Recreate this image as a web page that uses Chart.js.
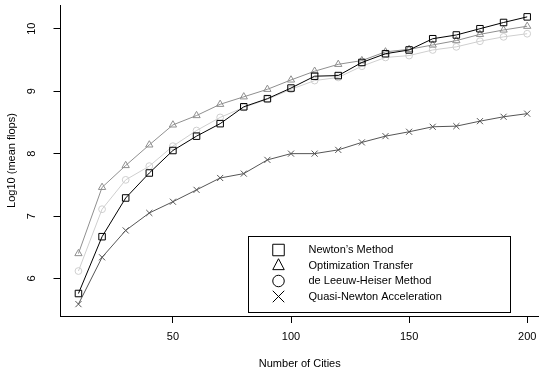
<!DOCTYPE html>
<html><head><meta charset="utf-8">
<script src="https://cdn.jsdelivr.net/npm/chart.js@4"></script>
<style>html,body{margin:0;padding:0;overflow:hidden;background:#fff}
canvas{display:block}</style>
</head><body><canvas id="c" width="539" height="369" style="width:539px;height:369px"></canvas>
<script>
const cities = [10,20,30,40,50,60,70,80,90,100,110,120,130,140,150,160,170,180,190,200];
const newton = [5.76,6.67,7.29,7.69,8.05,8.28,8.48,8.75,8.88,9.05,9.24,9.25,9.46,9.60,9.66,9.84,9.90,10.00,10.10,10.19];
const optTransfer = [6.40,7.46,7.81,8.14,8.46,8.61,8.79,8.91,9.03,9.18,9.32,9.43,9.49,9.63,9.67,9.74,9.81,9.91,9.98,10.04];
const deLeeuw = [6.12,7.11,7.58,7.80,8.12,8.37,8.58,8.74,8.87,9.03,9.17,9.22,9.40,9.54,9.57,9.66,9.71,9.80,9.87,9.92];
const quasiNewton = [5.59,6.34,6.77,7.05,7.23,7.42,7.61,7.68,7.90,8.00,8.00,8.06,8.18,8.28,8.35,8.43,8.44,8.52,8.59,8.64];
const seriesLabels = ["Newton\u2019s Method","Optimization Transfer","de Leeuw-Heiser Method","Quasi-Newton Acceleration"];
const xTicks = [50,100,150,200];
const yTicks = [6,7,8,9,10];

const FONT = {family:"'Liberation Sans', Arial, Helvetica, sans-serif", size:11};
const toXY = arr => arr.map((v,i)=>({x:cities[i], y:v}));

const styles = [
  {color:'#000000', point:'rect', r:4.6},
  {color:'#8f8f8f', point:'triangle', r:4.2},
  {color:'#cfcfcf', point:'circle', r:3.4},
  {color:'#555555', point:'crossRot', r:4.3}
];
const values = [newton, optTransfer, deLeeuw, quasiNewton];

const datasets = values.map((arr,i)=>({
  label: seriesLabels[i],
  data: toXY(arr),
  borderColor: styles[i].color,
  backgroundColor: 'rgba(0,0,0,0)',
  borderWidth: 1,
  pointStyle: styles[i].point,
  pointRadius: styles[i].r,
  pointBorderColor: styles[i].color,
  pointBackgroundColor: 'rgba(0,0,0,0)',
  pointBorderWidth: 1,
  tension: 0,
  fill: false
}));

function drawSymbol(ctx, kind, x, y, s){
  ctx.beginPath();
  if(kind==='rect'){ ctx.rect(x-s/2, y-s/2, s, s); }
  else if(kind==='triangle'){
    const h = s*0.95;
    ctx.moveTo(x, y-h*0.62); ctx.lineTo(x+s/2, y+h*0.38); ctx.lineTo(x-s/2, y+h*0.38); ctx.closePath();
  }
  else if(kind==='circle'){ ctx.arc(x, y, s/2, 0, Math.PI*2); }
  else { ctx.moveTo(x-s/2,y-s/2); ctx.lineTo(x+s/2,y+s/2); ctx.moveTo(x+s/2,y-s/2); ctx.lineTo(x-s/2,y+s/2); }
  ctx.stroke();
}

const boxLegend = {
  id:'boxLegend',
  afterDraw(chart){
    const ctx = chart.ctx;
    const box = {left:248.5, top:236.5, width:262, height:76};
    ctx.save();
    ctx.strokeStyle = '#000'; ctx.lineWidth = 1;
    ctx.strokeRect(box.left, box.top, box.width, box.height);
    ctx.font = FONT.size + 'px ' + FONT.family;
    ctx.fillStyle = '#000';
    ctx.textAlign = 'left'; ctx.textBaseline = 'middle';
    chart.data.datasets.forEach((ds,i)=>{
      const y = box.top + 13.5 + i*15.5;
      ctx.strokeStyle = '#000';
      drawSymbol(ctx, styles[i].point, box.left + 30, y, 11.5);
      ctx.fillText(ds.label, box.left + 60, y);
    });
    ctx.restore();
  }
};

const noPad = s => { s.paddingTop = 0; s.paddingBottom = 0; s.paddingLeft = 0; s.paddingRight = 0; };

new Chart(document.getElementById('c'), {
  type:'line',
  data:{datasets},
  plugins:[boxLegend],
  options:{
    responsive:false, animation:false, devicePixelRatio:1,
    layout:{autoPadding:false, padding:{top:5,right:0,left:0,bottom:0}},
    plugins:{legend:{display:false}, tooltip:{enabled:false}},
    scales:{
      x:{type:'linear', min:2.4, max:205.0,
        afterBuildTicks:s=>{s.ticks = xTicks.map(v=>({value:v}));},
        afterFit:s=>{s.height = 53; noPad(s);},
        grid:{display:true, drawOnChartArea:false, drawTicks:true, tickLength:7, tickColor:'#000'},
        border:{display:true, color:'#000', width:1},
        ticks:{color:'#000', font:FONT, padding:7, maxRotation:0, minRotation:0, autoSkip:false},
        title:{display:true, text:'Number of Cities', color:'#000', font:FONT, padding:{top:0,bottom:-1.5}}
      },
      y:{type:'linear', min:5.40, max:10.38,
        afterBuildTicks:s=>{s.ticks = yTicks.map(v=>({value:v}));},
        afterFit:s=>{s.width = 60.5; noPad(s);},
        grid:{display:true, drawOnChartArea:false, drawTicks:true, tickLength:7, tickColor:'#000'},
        border:{display:true, color:'#000', width:1},
        ticks:{color:'#000', font:FONT, padding:15, minRotation:90, maxRotation:90, crossAlign:'center', autoSkip:false},
        title:{display:true, text:'Log10 (mean flops)', color:'#000', font:FONT, padding:{top:5,bottom:0}}
      }
    }
  }
});
</script></body></html>
